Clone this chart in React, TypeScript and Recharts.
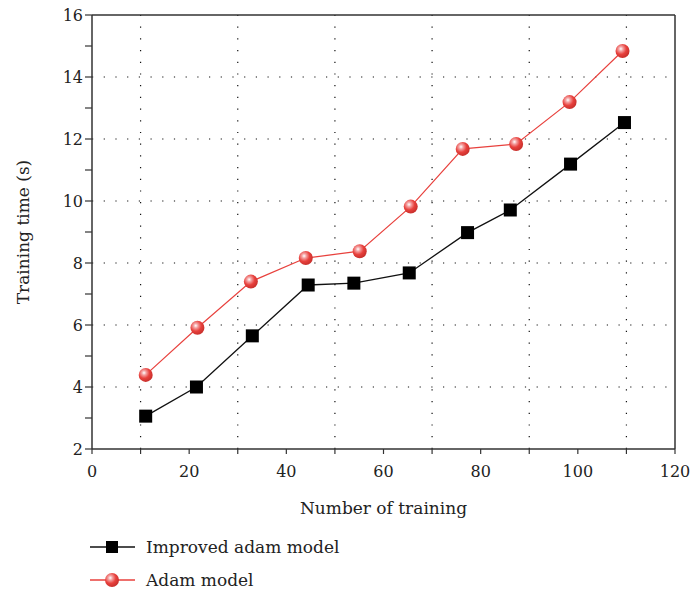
import { LineChart, Line, XAxis, YAxis, ReferenceLine, Legend, Label } from "recharts";

// values
const improvedX = [11.05, 21.5, 33.0, 44.5, 53.9, 65.3, 77.3, 86.1, 98.5, 109.6];
const improvedY = [3.06, 4.0, 5.65, 7.29, 7.35, 7.68, 8.98, 9.71, 11.19, 12.53];
const adamX = [11.05, 21.7, 32.7, 44.0, 55.1, 65.6, 76.3, 87.3, 98.3, 109.2];
const adamY = [4.39, 5.91, 7.4, 8.16, 8.38, 9.82, 11.68, 11.84, 13.19, 14.84];

const seriesNames = ["Improved adam model", "Adam model"];

const xTicks = [0, 10, 20, 30, 40, 50, 60, 70, 80, 90, 100, 110, 120];
const yTicks = [2, 3, 4, 5, 6, 7, 8, 9, 10, 11, 12, 13, 14, 15, 16];
const xGrid = [10, 30, 50, 70, 90, 110];
const yGrid = [4, 6, 8, 10, 12, 14];

const improvedData = improvedX.map((x, i) => ({ x, y: improvedY[i] }));
const adamData = adamX.map((x, i) => ({ x, y: adamY[i] }));

const FONT = "'DejaVu Serif', 'Liberation Serif', serif";
const FS = 16;
const LFS = 17;
const AXIS = "#333";
const RED = "#e8413d";

const XTick = (props: any) => {
  const { x, y, payload } = props;
  if (payload.value % 20 !== 0) return <g />;
  return (
    <text x={x} y={y} dy="0.71em" textAnchor="middle" fontFamily={FONT} fontSize={FS} fill="#222">
      {payload.value}
    </text>
  );
};

const YTick = (props: any) => {
  const { x, y, payload } = props;
  if (payload.value % 2 !== 0) return <g />;
  return (
    <text x={x} y={y} dy="0.35em" textAnchor="end" fontFamily={FONT} fontSize={FS} fill="#222">
      {payload.value}
    </text>
  );
};

const Square = (p: any) => (
  <rect key={`sq-${p.index}`} x={p.cx - 6.5} y={p.cy - 6.5} width={13} height={13} fill="#000" />
);

const Ball = (p: any) => (
  <circle key={`ball-${p.index}`} cx={p.cx} cy={p.cy} r={7} fill="url(#ballGrad)" />
);

const LegendContent = (props: any) => {
  const items = [...props.payload].sort(
    (a: any, b: any) => seriesNames.indexOf(a.value) - seriesNames.indexOf(b.value)
  );
  return (
    <div style={{ fontFamily: FONT, fontSize: LFS, color: "#222" }}>
      {items.map((item: any, i: number) => (
        <div key={i} style={{ display: "flex", alignItems: "center", height: 33 }}>
          <svg width={56} height={20} style={{ display: "block" }}>
            <line x1={0} y1={10} x2={45} y2={10} stroke={item.color} strokeWidth={1.3} />
            {item.value === seriesNames[0] ? (
              <rect x={16} y={4} width={12} height={12} fill="#000" />
            ) : (
              <circle cx={22} cy={10} r={7} fill="url(#ballGrad)" />
            )}
          </svg>
          <span>{item.value}</span>
        </div>
      ))}
    </div>
  );
};

export default function App() {
  return (
    <div style={{ position: "absolute", left: 0, top: 0 }}>
      <LineChart width={690} height={593} margin={{ top: 15, right: 15, bottom: 8, left: 0 }}>
        <defs>
          <radialGradient id="ballGrad" cx="38%" cy="35%" r="65%">
            <stop offset="0%" stopColor="#ffffff" />
            <stop offset="25%" stopColor="#f4a0a0" />
            <stop offset="60%" stopColor="#e8413d" />
            <stop offset="100%" stopColor="#c9302c" />
          </radialGradient>
        </defs>
        <XAxis
          type="number"
          dataKey="x"
          domain={[0, 120]}
          ticks={xTicks}
          interval={0}
          height={70}
          tickSize={5}
          tickMargin={12}
          tick={<XTick />}
          axisLine={{ stroke: AXIS, strokeWidth: 1.5 }}
          tickLine={{ stroke: AXIS, strokeWidth: 1.2 }}
        >
          <Label
            value="Number of training"
            position="insideBottom"
            offset={5}
            style={{ fontFamily: FONT, fontSize: LFS, fill: "#222" }}
          />
        </XAxis>
        <YAxis
          type="number"
          domain={[2, 16]}
          ticks={yTicks}
          interval={0}
          width={92}
          tickSize={7}
          tickMargin={2}
          tick={<YTick />}
          axisLine={{ stroke: AXIS, strokeWidth: 1.5 }}
          tickLine={{ stroke: AXIS, strokeWidth: 1.2 }}
        >
          <Label
            value="Training time (s)"
            angle={-90}
            position="insideLeft"
            offset={23}
            style={{ textAnchor: "middle", fontFamily: FONT, fontSize: LFS, fill: "#222" }}
          />
        </YAxis>
        {xGrid.map((v) => (
          <ReferenceLine key={`gx-${v}`} x={v} stroke="#111" strokeWidth={1.2} strokeDasharray="1.2 10.5" />
        ))}
        {yGrid.map((v) => (
          <ReferenceLine key={`gy-${v}`} y={v} stroke="#111" strokeWidth={1.2} strokeDasharray="1.2 10.5" />
        ))}
        <ReferenceLine y={16} stroke={AXIS} strokeWidth={1.5} />
        <ReferenceLine x={120} stroke={AXIS} strokeWidth={1.5} />
        <Line
          data={improvedData}
          dataKey="y"
          name={seriesNames[0]}
          stroke="#111"
          strokeWidth={1.3}
          dot={Square}
          activeDot={false}
          isAnimationActive={false}
        />
        <Line
          data={adamData}
          dataKey="y"
          name={seriesNames[1]}
          stroke={RED}
          strokeWidth={1.2}
          dot={Ball}
          activeDot={false}
          isAnimationActive={false}
        />
        <Legend
          layout="vertical"
          align="center"
          verticalAlign="bottom"
          content={<LegendContent />}
          wrapperStyle={{ left: 90, top: 530, width: 300, bottom: "auto" }}
        />
      </LineChart>
    </div>
  );
}
